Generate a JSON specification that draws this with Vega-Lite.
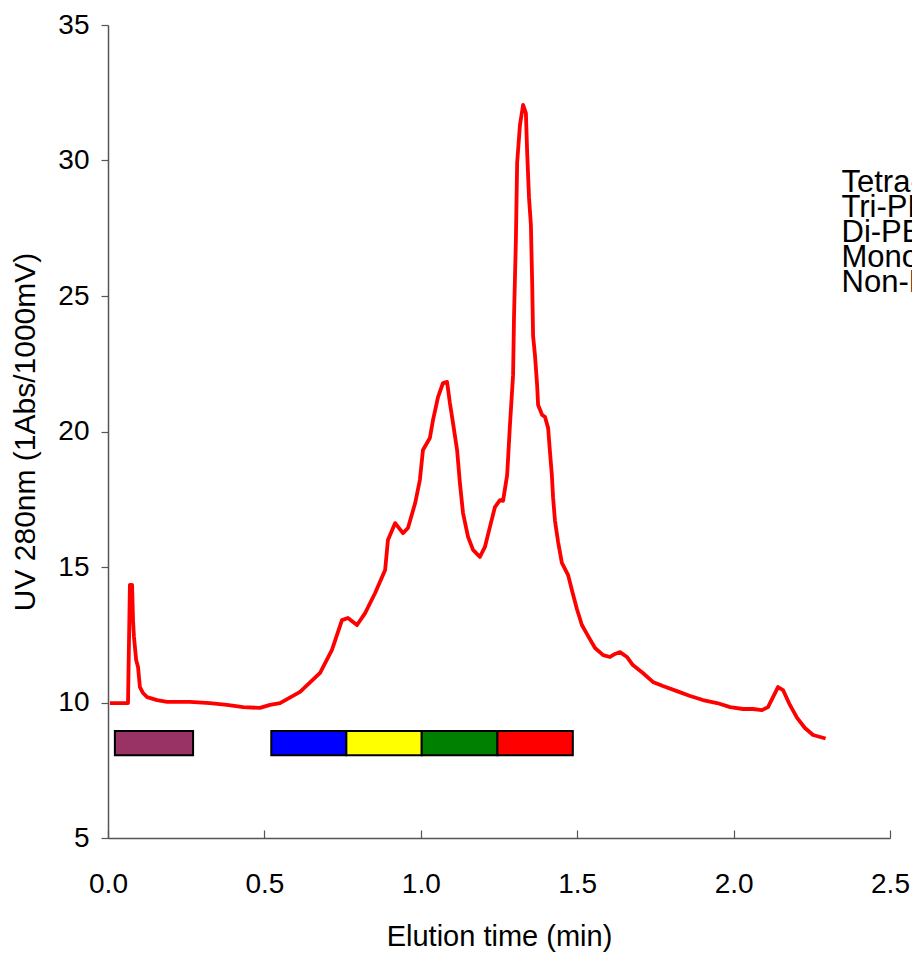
{
  "$schema": "https://vega.github.io/schema/vega-lite/v6.json",
  "width": 782,
  "height": 813,
  "padding": {"left": 108, "top": 25, "right": 22, "bottom": 115},
  "autosize": {"type": "none"},
  "background": "white",
  "config": {
    "view": {"stroke": null},
    "font": "Liberation Sans",
    "axis": {"grid": false, "labelFont": "Liberation Sans", "titleFont": "Liberation Sans", "labelColor": "black", "titleColor": "black", "titleFontWeight": "normal", "domainColor": "#555555", "tickColor": "#555555", "domainWidth": 1.5, "tickWidth": 1.2, "labelFlush": false, "labelOverlap": false}
  },
  "datasets": {
    "trace": [
      {"t": 0.006, "v": 9.98}, {"t": 0.064, "v": 9.98}, {"t": 0.070, "v": 14.34}, {"t": 0.077, "v": 14.34},
      {"t": 0.080, "v": 13.04}, {"t": 0.083, "v": 12.42}, {"t": 0.090, "v": 11.57}, {"t": 0.096, "v": 11.31},
      {"t": 0.102, "v": 10.57}, {"t": 0.112, "v": 10.35}, {"t": 0.125, "v": 10.2}, {"t": 0.157, "v": 10.09},
      {"t": 0.189, "v": 10.02}, {"t": 0.262, "v": 10.02}, {"t": 0.326, "v": 9.98}, {"t": 0.380, "v": 9.91},
      {"t": 0.432, "v": 9.83}, {"t": 0.486, "v": 9.8}, {"t": 0.518, "v": 9.91}, {"t": 0.55, "v": 9.98},
      {"t": 0.614, "v": 10.39}, {"t": 0.678, "v": 11.09}, {"t": 0.716, "v": 11.94}, {"t": 0.748, "v": 13.04},
      {"t": 0.767, "v": 13.12}, {"t": 0.796, "v": 12.86}, {"t": 0.822, "v": 13.3}, {"t": 0.854, "v": 14.04},
      {"t": 0.886, "v": 14.89}, {"t": 0.895, "v": 16.0}, {"t": 0.918, "v": 16.62}, {"t": 0.943, "v": 16.25},
      {"t": 0.959, "v": 16.44}, {"t": 0.982, "v": 17.36}, {"t": 0.997, "v": 18.21}, {"t": 1.007, "v": 19.32},
      {"t": 1.029, "v": 19.76}, {"t": 1.039, "v": 20.42}, {"t": 1.055, "v": 21.27}, {"t": 1.071, "v": 21.79},
      {"t": 1.084, "v": 21.83}, {"t": 1.093, "v": 21.05}, {"t": 1.103, "v": 20.31}, {"t": 1.116, "v": 19.32},
      {"t": 1.125, "v": 18.1}, {"t": 1.135, "v": 16.99}, {"t": 1.151, "v": 16.11}, {"t": 1.167, "v": 15.63},
      {"t": 1.189, "v": 15.37}, {"t": 1.205, "v": 15.74}, {"t": 1.221, "v": 16.48}, {"t": 1.237, "v": 17.21},
      {"t": 1.253, "v": 17.47}, {"t": 1.263, "v": 17.44}, {"t": 1.276, "v": 18.39}, {"t": 1.279, "v": 18.99},
      {"t": 1.285, "v": 20.24}, {"t": 1.295, "v": 22.08}, {"t": 1.298, "v": 24.23}, {"t": 1.304, "v": 27.07},
      {"t": 1.308, "v": 29.91}, {"t": 1.317, "v": 31.31}, {"t": 1.327, "v": 32.05}, {"t": 1.336, "v": 31.75},
      {"t": 1.340, "v": 30.31}, {"t": 1.346, "v": 28.62}, {"t": 1.352, "v": 27.62}, {"t": 1.356, "v": 25.52},
      {"t": 1.359, "v": 23.52}, {"t": 1.365, "v": 22.82}, {"t": 1.372, "v": 21.68}, {"t": 1.375, "v": 20.98},
      {"t": 1.388, "v": 20.61}, {"t": 1.397, "v": 20.54}, {"t": 1.407, "v": 20.13}, {"t": 1.413, "v": 19.24},
      {"t": 1.419, "v": 18.39}, {"t": 1.423, "v": 17.55}, {"t": 1.429, "v": 16.7}, {"t": 1.439, "v": 15.92},
      {"t": 1.451, "v": 15.15}, {"t": 1.471, "v": 14.7}, {"t": 1.483, "v": 14.15}, {"t": 1.499, "v": 13.45},
      {"t": 1.515, "v": 12.86}, {"t": 1.535, "v": 12.45}, {"t": 1.557, "v": 12.01}, {"t": 1.583, "v": 11.75},
      {"t": 1.605, "v": 11.68}, {"t": 1.621, "v": 11.79}, {"t": 1.637, "v": 11.86}, {"t": 1.659, "v": 11.68},
      {"t": 1.678, "v": 11.38}, {"t": 1.710, "v": 11.09}, {"t": 1.742, "v": 10.76}, {"t": 1.774, "v": 10.61},
      {"t": 1.819, "v": 10.42}, {"t": 1.861, "v": 10.24}, {"t": 1.902, "v": 10.09}, {"t": 1.947, "v": 9.98},
      {"t": 1.989, "v": 9.83}, {"t": 2.030, "v": 9.76}, {"t": 2.062, "v": 9.76}, {"t": 2.091, "v": 9.72},
      {"t": 2.110, "v": 9.83}, {"t": 2.126, "v": 10.2}, {"t": 2.142, "v": 10.57}, {"t": 2.158, "v": 10.46},
      {"t": 2.180, "v": 9.91}, {"t": 2.203, "v": 9.43}, {"t": 2.228, "v": 9.06}, {"t": 2.254, "v": 8.8},
      {"t": 2.294, "v": 8.67}
    ],
    "fractions": [
      {"fraction": "F0", "start": 0.022, "end": 0.272, "lo": 8.05, "hi": 8.95},
      {"fraction": "F1", "start": 0.522, "end": 0.762, "lo": 8.05, "hi": 8.95},
      {"fraction": "F2", "start": 0.762, "end": 1.003, "lo": 8.05, "hi": 8.95},
      {"fraction": "F3", "start": 1.003, "end": 1.245, "lo": 8.05, "hi": 8.95},
      {"fraction": "F4", "start": 1.245, "end": 1.486, "lo": 8.05, "hi": 8.95}
    ],
    "labels": [
      {"name": "Tetra-PEG", "t": 2.345, "v": 29.17},
      {"name": "Tri-PEG", "t": 2.345, "v": 28.25},
      {"name": "Di-PEG", "t": 2.345, "v": 27.32},
      {"name": "Mono-PEG", "t": 2.345, "v": 26.4},
      {"name": "Non-PEG", "t": 2.345, "v": 25.48}
    ]
  },
  "layer": [
    {
      "data": {"name": "fractions"},
      "mark": {"type": "rect", "stroke": "black", "strokeWidth": 2},
      "encoding": {
        "x": {"field": "start", "type": "quantitative", "scale": {"domain": [0, 2.5], "nice": false}, "axis": {"values": [0, 0.5, 1, 1.5, 2, 2.5], "format": ".1f", "tickSize": -8, "labelPadding": 40, "labelFontSize": 28, "title": "Elution time (min)", "titleFontSize": 29, "titlePadding": 24}},
        "x2": {"field": "end"},
        "y": {"field": "lo", "type": "quantitative", "scale": {"domain": [5, 35], "nice": false, "zero": false}, "axis": {"values": [5, 10, 15, 20, 25, 30, 35], "tickSize": 7, "labelPadding": 12, "labelFontSize": 28, "title": "UV 280nm (1Abs/1000mV)", "titleFontSize": 30, "titlePadding": 17}},
        "y2": {"field": "hi"},
        "color": {"field": "fraction", "type": "nominal", "scale": {"domain": ["F0", "F1", "F2", "F3", "F4"], "range": ["#993366", "#0000FF", "#FFFF00", "#008000", "#FF0000"]}, "legend": null}
      }
    },
    {
      "data": {"name": "trace"},
      "mark": {"type": "line", "color": "#FF0000", "strokeWidth": 3.8, "strokeJoin": "round"},
      "encoding": {
        "x": {"field": "t", "type": "quantitative"},
        "y": {"field": "v", "type": "quantitative"}
      }
    },
    {
      "data": {"name": "labels"},
      "mark": {"type": "text", "align": "left", "baseline": "middle", "fontSize": 31, "font": "Liberation Sans", "color": "black"},
      "encoding": {
        "x": {"field": "t", "type": "quantitative"},
        "y": {"field": "v", "type": "quantitative"},
        "text": {"field": "name"}
      }
    }
  ]
}
